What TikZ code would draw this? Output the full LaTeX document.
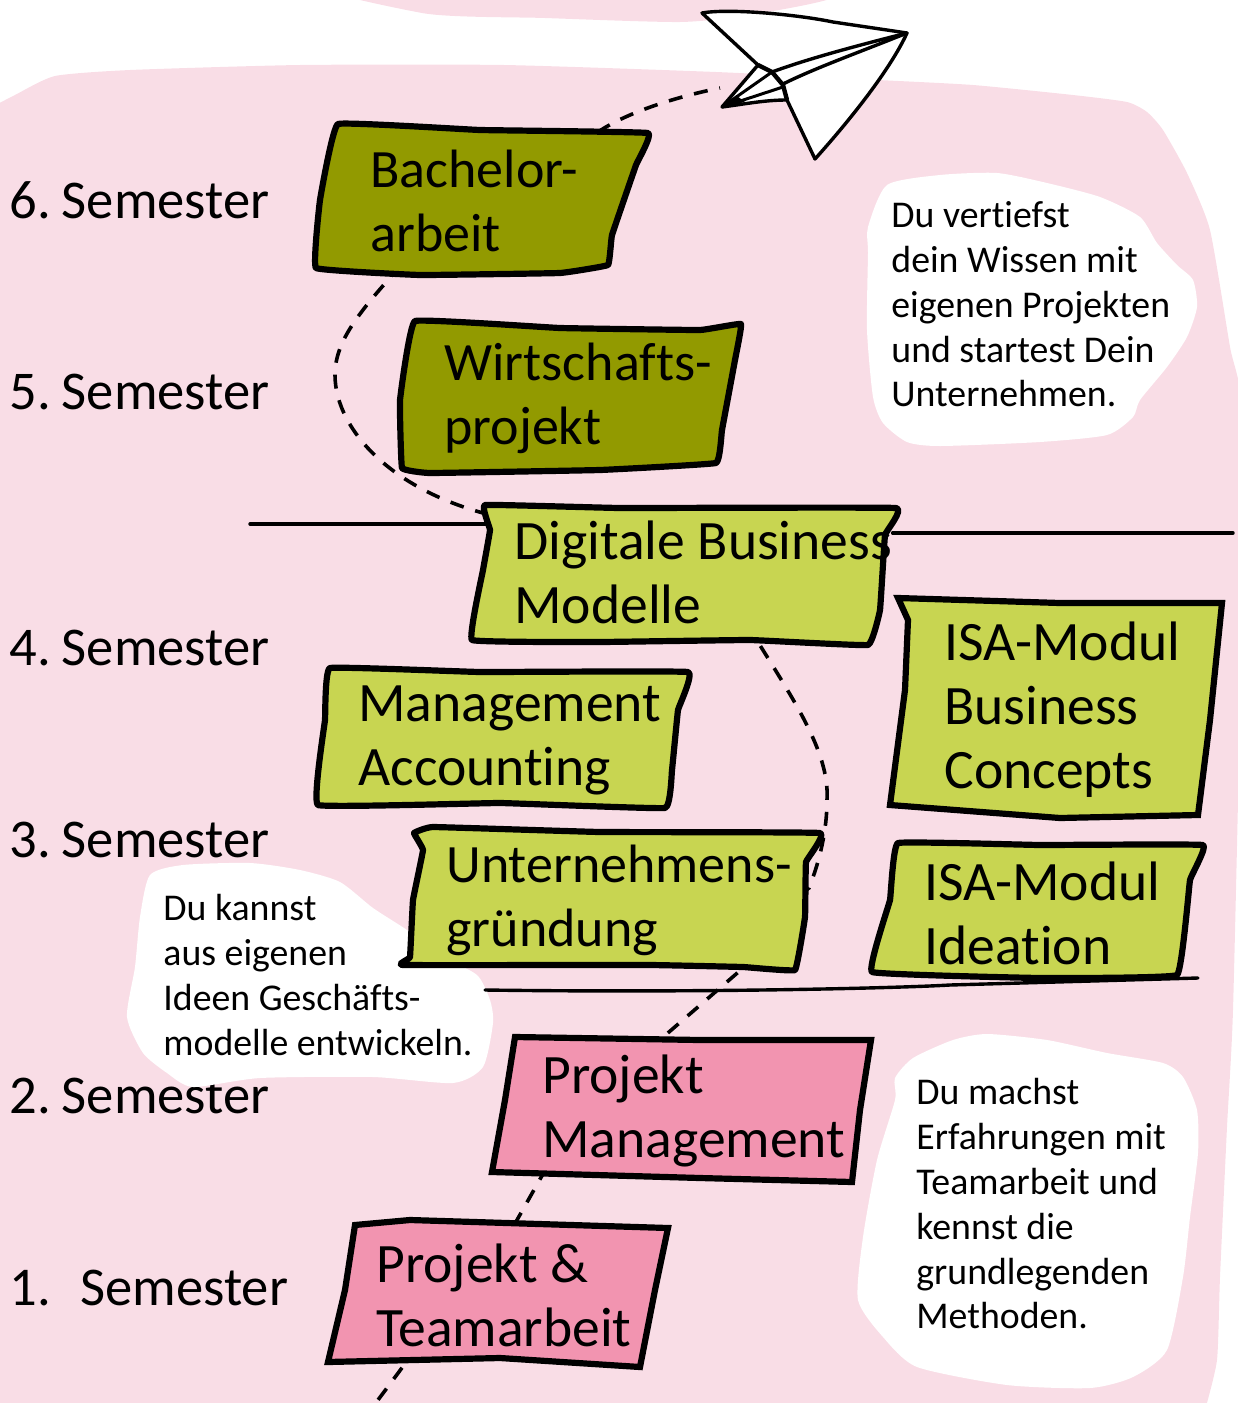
\documentclass[tikz,border=0pt]{standalone}
\usepackage{fontspec}
\setmainfont[Ligatures=NoCommon]{Carlito}
\usetikzlibrary{positioning,backgrounds}
\definecolor{blobpink}{HTML}{F9DDE6}
\definecolor{boxolive}{HTML}{929A00}
\definecolor{boxlime}{HTML}{C8D551}
\definecolor{boxpink}{HTML}{F294B0}
\tikzset{
  semlabel/.style={anchor=west,inner sep=0pt,font=\fontsize{27.3}{32}\selectfont},
  boxtext/.style={anchor=west,inner sep=0pt,align=left,font=\fontsize{27.8}{32}\selectfont},
  boxsmall/.style={boxtext,font=\fontsize{27}{32}\selectfont},
  notetext/.style={anchor=west,inner sep=0pt,align=left,font=\fontsize{18.9}{22.4}\selectfont},
  boxline/.style={draw=black,line width=3.1pt,line join=round},
  rule/.style={line width=1.7pt,line cap=round},
  trail/.style={line width=1.8pt,dash pattern=on 7pt off 6pt},
}
\newcommand{\sketchbox}[2]{\path[boxline,fill=#1] plot[smooth cycle,tension=.12] coordinates {#2};}
\newcommand{\sketchsharp}[2]{\path[boxline,line join=miter,fill=#1] plot[sharp cycle] coordinates {#2};}
\newcommand{\sketchblob}[2]{\path[fill=#1] plot[smooth cycle,tension=.4] coordinates {#2};}
\begin{document}
\begin{tikzpicture}[x=.5pt,y=-.5pt]
  \useasboundingbox (0,0) rectangle (1237,1403);
  % box texts
  \node[boxsmall] (bachelor) at (370,201) {Bachelor-\\arbeit};
  \node[boxsmall] (wirtschaft) at (444,398) {Wirtschafts-\\projekt};
  \node[boxtext] (digital) at (514,572) {Digitale Business\\Modelle};
  \node[boxtext] (account) at (358,740) {Management\\Accounting};
  \node[boxsmall] (gruendung) at (446,900) {Unternehmens-\\gründung};
  \node[boxtext] (concepts) at (944,710) {ISA-Modul\\Business\\Concepts};
  \node[boxtext] (ideation) at (924,913) {ISA-Modul\\Ideation};
  \node[boxtext] (projektm) at (542,1111) {Projekt\\Management};
  \node[boxtext] (projektt) at (376,1295) {Projekt \&\\Teamarbeit};
  % semester labels
  \foreach \n/\y in {6/200,5/392,4/648,3/840}
    \node[semlabel] (sem\n) at (9,\y) {\n.\hspace{5.5pt}Semester};
  \node[semlabel] (sem1) at (9,1288) {1.\hspace{6.5pt} Semester};
  % notes
  \node[notetext] (noteup) at (891,304.5) {Du vertiefst\\dein Wissen mit\\eigenen Projekten\\und startest Dein\\Unternehmen.};
  \node[notetext] (noteleft) at (163,975) {Du kannst\\aus eigenen\\Ideen Geschäfts-\\modelle entwickeln.};
  \node[notetext] (notedown) at (916,1204) {Du machst\\Erfahrungen mit\\Teamarbeit und\\kennst die\\grundlegenden\\Methoden.};
  \coordinate (planetail) at (720,88);
  \coordinate (exit) at (372,1408);
  \coordinate (ruleaL) at (250,524);
  \coordinate (ruleaR) at (1233,533);
  \coordinate (rulebL) at (485,990);
  \coordinate (rulebR) at (1198,978);
  \begin{scope}[on background layer]
    % pink paper
    \sketchblob{blobpink}{(312,-25) (422,13) (545,18) (680,22) (749,15) (833,-2) (900,-40)}
    \path[fill=blobpink] plot[smooth,tension=.35] coordinates {(-10,108) (15,95) (55,76) (130,70) (300,65) (504,65) (716,72) (878,80) (973,85) (1073,95) (1127,102) (1147,112) (1163,130) (1187,173) (1210,230) (1230,347) (1242,413) (1240,700) (1233,1010) (1227,1127) (1220,1277) (1217,1360) (1205,1410)} -- (-10,1410) -- cycle;
    \node[semlabel] (sem2) at (9,1096) {2.\hspace{5.5pt}Semester};
    % white notes
    \sketchblob{white}{(887,185) (940,175) (997,173) (1047,183) (1100,197) (1140,217) (1157,243) (1177,265) (1193,280) (1197,307) (1187,337) (1167,367) (1140,400) (1133,417) (1107,435) (1040,442) (940,446) (907,442) (883,423) (873,397) (867,330) (868,253) (868,227)}
    \sketchblob{white}{(150,875) (183,865) (250,863) (300,870) (340,882) (373,908) (407,930) (440,955) (477,975) (490,1000) (493,1023) (483,1067) (453,1083) (373,1077) (260,1078) (193,1087) (167,1073) (143,1053) (127,1017) (135,967) (140,917)}
    \sketchblob{white}{(895,1078) (913,1058) (953,1040) (987,1034) (1047,1040) (1107,1053) (1163,1063) (1183,1077) (1197,1110) (1198,1153) (1190,1217) (1183,1277) (1167,1350) (1133,1377) (1090,1388) (1007,1385) (917,1367) (883,1337) (858,1300) (863,1237) (877,1160) (895,1100)}
    % rules
    \draw[rule] (ruleaL) -- (ruleaL -| digital.west);
    \draw[rule] (ruleaR -| digital.east) -- (ruleaR);
    \draw[rule] (rulebL) .. controls (700,993) and (900,988) .. (950,985) -- (rulebR);
    % trail
    \draw[trail] (bachelor.north east) .. controls (600,120) and (670,98) .. (planetail);
    \draw[trail] (digital.north west) .. controls (395,498) and (335,430) .. (335,375) .. controls (335,340) and (360,310) .. (bachelor.220);
    \draw[trail] (digital.-50) .. controls (790,695) and (830,750) .. (827,800) .. controls (827,830) and (820,860) .. (809,888) -- (gruendung.east);
    \draw[trail] (gruendung.-22) -- (projektm.132);
    \draw[trail] (projektm.201) -- (projektt.north);
    \draw[trail] (projektt.211) -- (exit);
    % boxes
    \sketchbox{boxolive}{(338,124) (480,130) (648,133) (636,165) (612,235) (608,265) (560,273) (420,275) (316,268) (320,200)}
    \sketchbox{boxolive}{(415,321) (560,328) (700,330) (741,324) (735,360) (722,430) (716,463) (600,470) (430,473) (402,468) (400,400)}
    \sketchbox{boxlime}{(485,505) (620,508) (896,508) (885,535) (880,610) (868,645) (750,640) (600,642) (472,640) (483,570) (490,530)}
    \sketchbox{boxlime}{(330,668) (480,672) (688,672) (678,710) (672,770) (665,808) (500,803) (318,805) (325,720)}
    \sketchbox{boxlime}{(414,833) (433,827) (600,832) (820,833) (806,862) (805,917) (795,970) (743,967) (650,965) (403,965) (410,957) (413,900) (423,850)}
    \sketchsharp{boxlime}{(898,598) (1060,603) (1222,603) (1210,720) (1198,815) (1060,818) (890,805) (905,690) (908,620)}
    \sketchbox{boxlime}{(898,843) (1040,845) (1203,845) (1190,880) (1177,975) (1040,978) (872,972) (890,900)}
    \sketchsharp{boxpink}{(515,1037) (700,1040) (871,1040) (860,1110) (852,1182) (700,1178) (492,1172) (505,1100)}
    \sketchsharp{boxpink}{(355,1225) (410,1220) (668,1228) (655,1290) (640,1367) (500,1358) (328,1362) (345,1290)}
  \end{scope}
  % paper plane
  \draw[line width=1.7pt,fill=white,line join=round] (702,13) .. controls (730,8) and (800,15) .. (833,22) -- (907,33) .. controls (890,70) and (850,120) .. (815,159) -- (787,100) .. controls (765,100) and (745,104) .. (722,107) -- (758,65) -- cycle;
  \draw[line width=2.2pt] (758,65) -- (772,72) -- (783,85) -- (787,100);
  \draw[line width=1.7pt] (772,72) .. controls (810,58) and (860,45) .. (907,33);
  \draw[line width=1.7pt] (783,84) .. controls (815,68) and (860,52) .. (907,33);
  \draw[line width=1.5pt] (722,107) -- (772,72);
  \draw[line width=1.5pt] (722,107) -- (783,87);
  \fill (722,107) -- (737,96) -- (745,102) -- cycle;
\end{tikzpicture}
\end{document}
